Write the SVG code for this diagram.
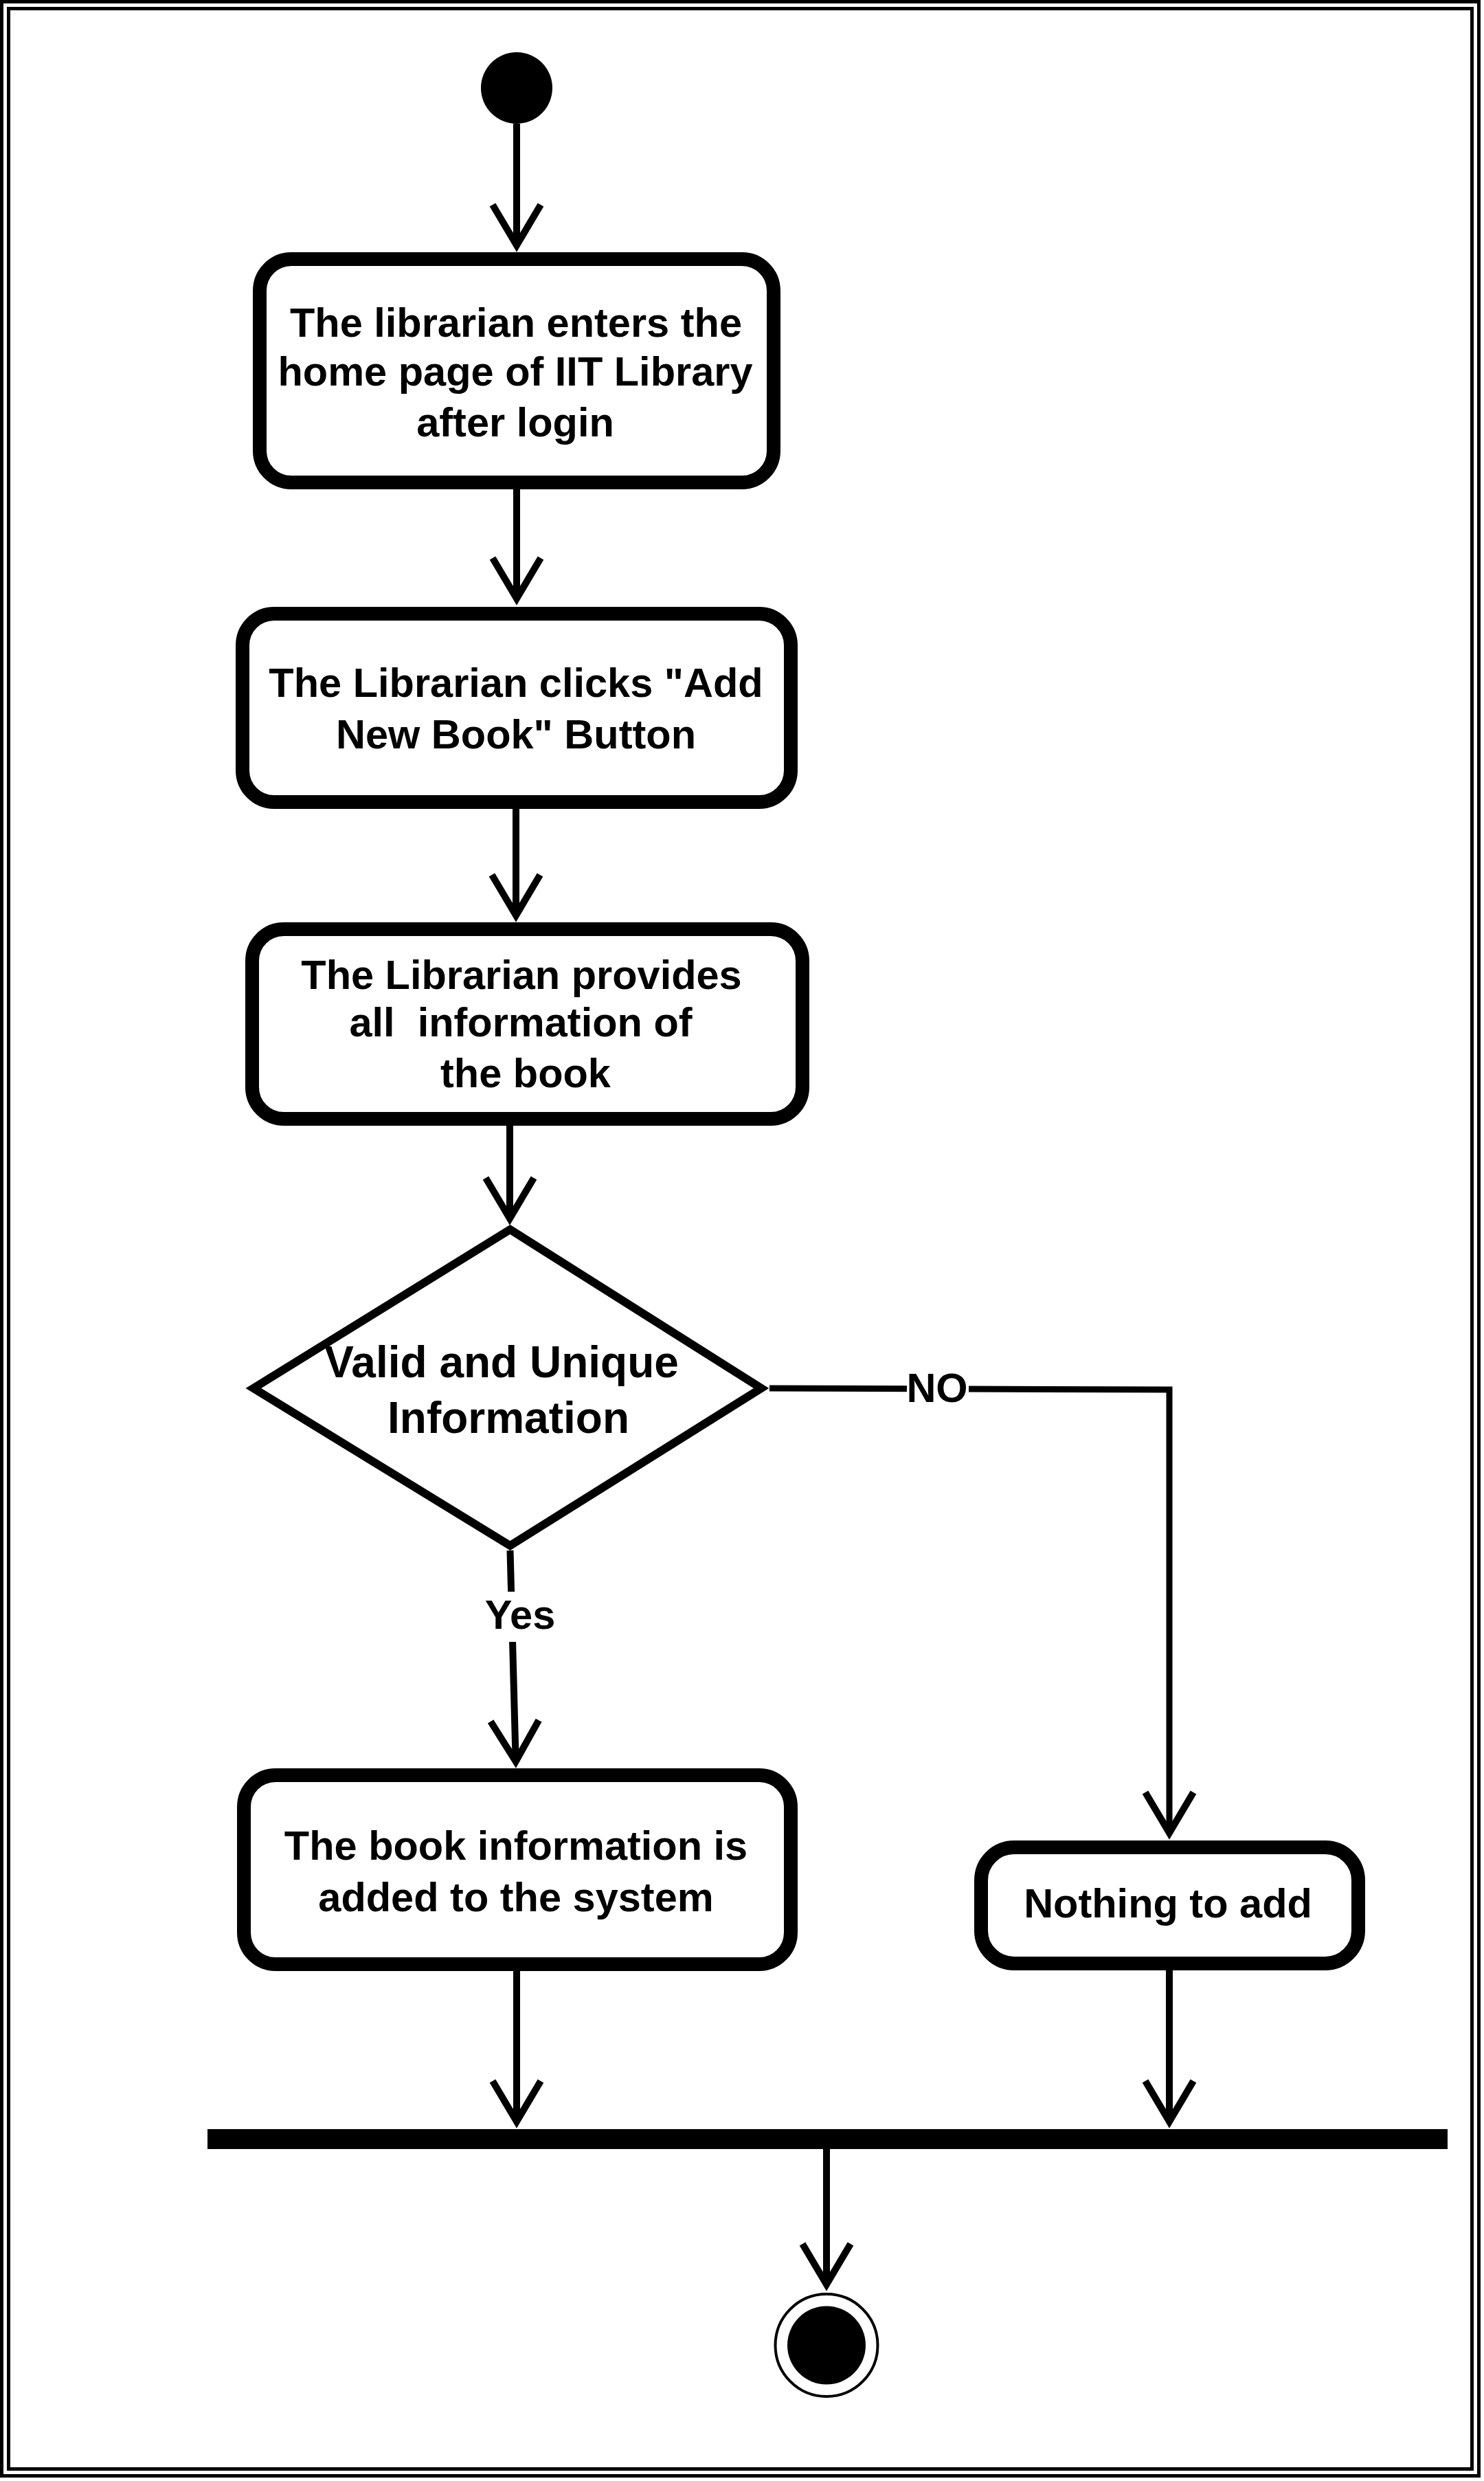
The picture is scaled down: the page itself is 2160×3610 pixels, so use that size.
<svg xmlns="http://www.w3.org/2000/svg" width="2160" height="3610" viewBox="0 0 2160 3610">
<style>
.frame{fill:none;stroke:#000;stroke-width:5}
.act{fill:#fff;stroke:#000;stroke-width:20}
.dec{fill:#fff;stroke:#000;stroke-width:12;stroke-linejoin:miter;stroke-miterlimit:10}
.t{font-family:"Liberation Sans",Arial,sans-serif;font-weight:bold;font-size:59.5px;text-anchor:middle;fill:#000}
.td{font-size:64px}
.c{fill:none;stroke:#000;stroke-width:10;marker-end:url(#arr)}
</style>
<defs>
<marker id="arr" markerUnits="userSpaceOnUse" orient="auto" refX="0" refY="0" markerWidth="120" markerHeight="120" overflow="visible">
<path d="M -59 -35 L 0 0 L -59 35" fill="none" stroke="#000" stroke-width="10" stroke-linejoin="miter"/>
</marker>
</defs>
<rect x="0" y="0" width="2160" height="3610" fill="#fff"/>
<rect class="frame" x="2.5" y="2.5" width="2150" height="3600"/>
<rect class="frame" x="12.5" y="12.5" width="2130" height="3580"/>

<g id="connectors">
<path class="c" d="M752 180 L752 357"/>
<path class="c" d="M752 712 L752 871"/>
<path class="c" d="M751 1177 L751 1332"/>
<path class="c" d="M742 1638 L742 1773"/>
<path class="c" d="M742.5 2256 L750.7 2563"/>
<path class="c" d="M1120 2020 L1702 2022 L1702 2667" style="stroke-width:9"/>
<path class="c" d="M752 2868 L752 3087"/>
<path class="c" d="M1702 2867 L1702 3087"/>
<path class="c" d="M1203 3127 L1203 3324"/>
<rect x="704" y="2316" width="106" height="73" fill="#fff"/>
<text class="t" x="757" y="2370">Yes</text>
<rect x="1320" y="1990" width="90" height="60" fill="#fff"/>
<text class="t" x="1364" y="2040">NO</text>
</g>

<g id="start">
<circle cx="752" cy="128" r="52" fill="#000"/>
</g>

<g id="a1">
<rect class="act" x="378" y="377" width="748" height="325" rx="46" ry="46"/>
<text class="t" x="751" y="490">The librarian enters the</text>
<text class="t" x="750" y="561">home page of IIT Library</text>
<text class="t" x="750" y="635">after login</text>
</g>

<g id="a2">
<rect class="act" x="353" y="893" width="798" height="274" rx="46" ry="46"/>
<text class="t" x="751" y="1014">The Librarian clicks "Add</text>
<text class="t" x="751" y="1089">New Book" Button</text>
</g>

<g id="a3">
<rect class="act" x="367" y="1352" width="801" height="276" rx="46" ry="46"/>
<text class="t" x="759" y="1439">The Librarian provides</text>
<text class="t" x="758" y="1508" xml:space="preserve">all  information of</text>
<text class="t" x="765" y="1582">the book</text>
</g>

<g id="decision">
<polygon class="dec" points="742.5,1789 1108,2020 742.5,2249 369,2020"/>
<text class="t td" x="730" y="2004">Valid and Unique</text>
<text class="t td" x="740" y="2085">Information</text>
</g>

<g id="a4">
<rect class="act" x="355" y="2583" width="796" height="275" rx="46" ry="46"/>
<text class="t" x="751" y="2706">The book information is</text>
<text class="t" x="751" y="2781">added to the system</text>
</g>

<g id="a5">
<rect class="act" x="1428" y="2688" width="549" height="169" rx="48" ry="48"/>
<text class="t" x="1700" y="2790">Nothing to add</text>
</g>

<g id="join">
<rect x="302" y="3098" width="1805" height="29" fill="#000"/>
</g>

<g id="end">
<circle cx="1203" cy="3412.5" r="74.5" fill="#fff" stroke="#000" stroke-width="4"/>
<circle cx="1203" cy="3412.5" r="57" fill="#000"/>
</g>
</svg>
